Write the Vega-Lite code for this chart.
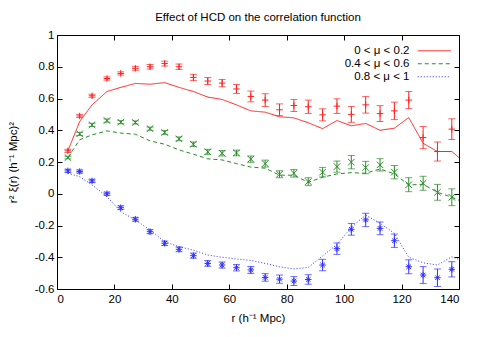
{
  "$schema": "https://vega.github.io/schema/vega-lite/v6.json",
  "width": 402,
  "height": 254,
  "autosize": {"type": "none"},
  "padding": {"left": 57, "top": 35, "right": 21, "bottom": 48},
  "title": {"text": "Effect of HCD on the correlation function", "fontSize": 11.5, "font": "Liberation Sans", "fontWeight": "normal", "offset": 6, "anchor": "middle", "color": "black"},
  "config": {
    "font": "Liberation Sans",
    "view": {"stroke": "black", "strokeWidth": 1},
    "axis": {"domain": false, "grid": false, "tickSize": -5, "tickColor": "black", "labelColor": "black", "labelFontSize": 11.5, "labelFont": "Liberation Sans", "titleFont": "Liberation Sans", "titleFontSize": 11.5, "titleFontWeight": "normal", "titleColor": "black"}
  },
  "datasets": {
    "pts": [
      {"s": "0 < μ < 0.2", "r": 3.8, "v": 0.27, "err": 0.01},
      {"s": "0 < μ < 0.2", "r": 7.9, "v": 0.49, "err": 0.01},
      {"s": "0 < μ < 0.2", "r": 12.2, "v": 0.617, "err": 0.01},
      {"s": "0 < μ < 0.2", "r": 17.4, "v": 0.726, "err": 0.01},
      {"s": "0 < μ < 0.2", "r": 22.2, "v": 0.758, "err": 0.01},
      {"s": "0 < μ < 0.2", "r": 27.3, "v": 0.79, "err": 0.012},
      {"s": "0 < μ < 0.2", "r": 32.4, "v": 0.8, "err": 0.014},
      {"s": "0 < μ < 0.2", "r": 37.5, "v": 0.82, "err": 0.015},
      {"s": "0 < μ < 0.2", "r": 42.5, "v": 0.8, "err": 0.017},
      {"s": "0 < μ < 0.2", "r": 47.5, "v": 0.733, "err": 0.019},
      {"s": "0 < μ < 0.2", "r": 52.5, "v": 0.71, "err": 0.022},
      {"s": "0 < μ < 0.2", "r": 57.5, "v": 0.697, "err": 0.023},
      {"s": "0 < μ < 0.2", "r": 62.5, "v": 0.66, "err": 0.028},
      {"s": "0 < μ < 0.2", "r": 67.5, "v": 0.613, "err": 0.034},
      {"s": "0 < μ < 0.2", "r": 72.5, "v": 0.59, "err": 0.04},
      {"s": "0 < μ < 0.2", "r": 77.5, "v": 0.529, "err": 0.037},
      {"s": "0 < μ < 0.2", "r": 82.5, "v": 0.556, "err": 0.038},
      {"s": "0 < μ < 0.2", "r": 87.5, "v": 0.548, "err": 0.042},
      {"s": "0 < μ < 0.2", "r": 92.5, "v": 0.497, "err": 0.038},
      {"s": "0 < μ < 0.2", "r": 97.5, "v": 0.552, "err": 0.046},
      {"s": "0 < μ < 0.2", "r": 102.5, "v": 0.5, "err": 0.05},
      {"s": "0 < μ < 0.2", "r": 107.5, "v": 0.56, "err": 0.052},
      {"s": "0 < μ < 0.2", "r": 112.5, "v": 0.505, "err": 0.05},
      {"s": "0 < μ < 0.2", "r": 117.5, "v": 0.522, "err": 0.055},
      {"s": "0 < μ < 0.2", "r": 122.5, "v": 0.59, "err": 0.054},
      {"s": "0 < μ < 0.2", "r": 127.5, "v": 0.354, "err": 0.07},
      {"s": "0 < μ < 0.2", "r": 132.5, "v": 0.266, "err": 0.06},
      {"s": "0 < μ < 0.2", "r": 137.5, "v": 0.407, "err": 0.065},
      {"s": "0.4 < μ < 0.6", "r": 3.8, "v": 0.228, "err": 0.008},
      {"s": "0.4 < μ < 0.6", "r": 7.9, "v": 0.377, "err": 0.01},
      {"s": "0.4 < μ < 0.6", "r": 12.2, "v": 0.434, "err": 0.01},
      {"s": "0.4 < μ < 0.6", "r": 17.4, "v": 0.461, "err": 0.01},
      {"s": "0.4 < μ < 0.6", "r": 22.2, "v": 0.451, "err": 0.01},
      {"s": "0.4 < μ < 0.6", "r": 27.3, "v": 0.449, "err": 0.01},
      {"s": "0.4 < μ < 0.6", "r": 32.4, "v": 0.41, "err": 0.01},
      {"s": "0.4 < μ < 0.6", "r": 37.5, "v": 0.386, "err": 0.012},
      {"s": "0.4 < μ < 0.6", "r": 42.5, "v": 0.346, "err": 0.012},
      {"s": "0.4 < μ < 0.6", "r": 47.5, "v": 0.312, "err": 0.014},
      {"s": "0.4 < μ < 0.6", "r": 52.5, "v": 0.264, "err": 0.016},
      {"s": "0.4 < μ < 0.6", "r": 57.5, "v": 0.255, "err": 0.017},
      {"s": "0.4 < μ < 0.6", "r": 62.5, "v": 0.257, "err": 0.018},
      {"s": "0.4 < μ < 0.6", "r": 67.5, "v": 0.218, "err": 0.02},
      {"s": "0.4 < μ < 0.6", "r": 72.5, "v": 0.19, "err": 0.022},
      {"s": "0.4 < μ < 0.6", "r": 77.5, "v": 0.123, "err": 0.022},
      {"s": "0.4 < μ < 0.6", "r": 82.5, "v": 0.129, "err": 0.024},
      {"s": "0.4 < μ < 0.6", "r": 87.5, "v": 0.076, "err": 0.025},
      {"s": "0.4 < μ < 0.6", "r": 92.5, "v": 0.136, "err": 0.03},
      {"s": "0.4 < μ < 0.6", "r": 97.5, "v": 0.171, "err": 0.035},
      {"s": "0.4 < μ < 0.6", "r": 102.5, "v": 0.199, "err": 0.042},
      {"s": "0.4 < μ < 0.6", "r": 107.5, "v": 0.165, "err": 0.039},
      {"s": "0.4 < μ < 0.6", "r": 112.5, "v": 0.182, "err": 0.039},
      {"s": "0.4 < μ < 0.6", "r": 117.5, "v": 0.136, "err": 0.042},
      {"s": "0.4 < μ < 0.6", "r": 122.5, "v": 0.057, "err": 0.044},
      {"s": "0.4 < μ < 0.6", "r": 127.5, "v": 0.066, "err": 0.044},
      {"s": "0.4 < μ < 0.6", "r": 132.5, "v": 0.009, "err": 0.05},
      {"s": "0.4 < μ < 0.6", "r": 137.5, "v": -0.022, "err": 0.053},
      {"s": "0.8 < μ < 1", "r": 3.8, "v": 0.144, "err": 0.01},
      {"s": "0.8 < μ < 1", "r": 7.9, "v": 0.14, "err": 0.01},
      {"s": "0.8 < μ < 1", "r": 12.2, "v": 0.081, "err": 0.01},
      {"s": "0.8 < μ < 1", "r": 17.4, "v": 0.0, "err": 0.01},
      {"s": "0.8 < μ < 1", "r": 22.2, "v": -0.088, "err": 0.012},
      {"s": "0.8 < μ < 1", "r": 27.3, "v": -0.161, "err": 0.012},
      {"s": "0.8 < μ < 1", "r": 32.4, "v": -0.239, "err": 0.013},
      {"s": "0.8 < μ < 1", "r": 37.5, "v": -0.312, "err": 0.014},
      {"s": "0.8 < μ < 1", "r": 42.5, "v": -0.35, "err": 0.015},
      {"s": "0.8 < μ < 1", "r": 47.5, "v": -0.39, "err": 0.016},
      {"s": "0.8 < μ < 1", "r": 52.5, "v": -0.439, "err": 0.018},
      {"s": "0.8 < μ < 1", "r": 57.5, "v": -0.449, "err": 0.019},
      {"s": "0.8 < μ < 1", "r": 62.5, "v": -0.466, "err": 0.02},
      {"s": "0.8 < μ < 1", "r": 67.5, "v": -0.48, "err": 0.022},
      {"s": "0.8 < μ < 1", "r": 72.5, "v": -0.527, "err": 0.024},
      {"s": "0.8 < μ < 1", "r": 77.5, "v": -0.538, "err": 0.026},
      {"s": "0.8 < μ < 1", "r": 82.5, "v": -0.55, "err": 0.028},
      {"s": "0.8 < μ < 1", "r": 87.5, "v": -0.54, "err": 0.03},
      {"s": "0.8 < μ < 1", "r": 92.5, "v": -0.449, "err": 0.036},
      {"s": "0.8 < μ < 1", "r": 97.5, "v": -0.346, "err": 0.036},
      {"s": "0.8 < μ < 1", "r": 102.5, "v": -0.224, "err": 0.037},
      {"s": "0.8 < μ < 1", "r": 107.5, "v": -0.165, "err": 0.042},
      {"s": "0.8 < μ < 1", "r": 112.5, "v": -0.218, "err": 0.04},
      {"s": "0.8 < μ < 1", "r": 117.5, "v": -0.296, "err": 0.042},
      {"s": "0.8 < μ < 1", "r": 122.5, "v": -0.46, "err": 0.044},
      {"s": "0.8 < μ < 1", "r": 127.5, "v": -0.512, "err": 0.053},
      {"s": "0.8 < μ < 1", "r": 132.5, "v": -0.529, "err": 0.055},
      {"s": "0.8 < μ < 1", "r": 137.5, "v": -0.476, "err": 0.048}
    ],
    "lines": [
      {"s": "0 < μ < 0.2", "r": 3.8, "v": 0.27},
      {"s": "0 < μ < 0.2", "r": 7.9, "v": 0.455},
      {"s": "0 < μ < 0.2", "r": 12.2, "v": 0.56},
      {"s": "0 < μ < 0.2", "r": 17.4, "v": 0.644},
      {"s": "0 < μ < 0.2", "r": 22.2, "v": 0.67},
      {"s": "0 < μ < 0.2", "r": 27.3, "v": 0.695},
      {"s": "0 < μ < 0.2", "r": 32.4, "v": 0.69},
      {"s": "0 < μ < 0.2", "r": 37.5, "v": 0.7},
      {"s": "0 < μ < 0.2", "r": 42.5, "v": 0.67},
      {"s": "0 < μ < 0.2", "r": 47.5, "v": 0.644},
      {"s": "0 < μ < 0.2", "r": 52.5, "v": 0.609},
      {"s": "0 < μ < 0.2", "r": 57.5, "v": 0.594},
      {"s": "0 < μ < 0.2", "r": 62.5, "v": 0.56},
      {"s": "0 < μ < 0.2", "r": 67.5, "v": 0.522},
      {"s": "0 < μ < 0.2", "r": 72.5, "v": 0.514},
      {"s": "0 < μ < 0.2", "r": 77.5, "v": 0.485},
      {"s": "0 < μ < 0.2", "r": 82.5, "v": 0.478},
      {"s": "0 < μ < 0.2", "r": 87.5, "v": 0.447},
      {"s": "0 < μ < 0.2", "r": 92.5, "v": 0.41},
      {"s": "0 < μ < 0.2", "r": 97.5, "v": 0.461},
      {"s": "0 < μ < 0.2", "r": 102.5, "v": 0.428},
      {"s": "0 < μ < 0.2", "r": 107.5, "v": 0.443},
      {"s": "0 < μ < 0.2", "r": 112.5, "v": 0.4},
      {"s": "0 < μ < 0.2", "r": 117.5, "v": 0.413},
      {"s": "0 < μ < 0.2", "r": 122.5, "v": 0.48},
      {"s": "0 < μ < 0.2", "r": 127.5, "v": 0.318},
      {"s": "0 < μ < 0.2", "r": 132.5, "v": 0.266},
      {"s": "0 < μ < 0.2", "r": 137.5, "v": 0.266},
      {"s": "0 < μ < 0.2", "r": 142.5, "v": 0.19},
      {"s": "0.4 < μ < 0.6", "r": 3.8, "v": 0.228},
      {"s": "0.4 < μ < 0.6", "r": 7.9, "v": 0.34},
      {"s": "0.4 < μ < 0.6", "r": 12.2, "v": 0.371},
      {"s": "0.4 < μ < 0.6", "r": 17.4, "v": 0.396},
      {"s": "0.4 < μ < 0.6", "r": 22.2, "v": 0.382},
      {"s": "0.4 < μ < 0.6", "r": 27.3, "v": 0.375},
      {"s": "0.4 < μ < 0.6", "r": 32.4, "v": 0.333},
      {"s": "0.4 < μ < 0.6", "r": 37.5, "v": 0.312},
      {"s": "0.4 < μ < 0.6", "r": 42.5, "v": 0.276},
      {"s": "0.4 < μ < 0.6", "r": 47.5, "v": 0.249},
      {"s": "0.4 < μ < 0.6", "r": 52.5, "v": 0.22},
      {"s": "0.4 < μ < 0.6", "r": 57.5, "v": 0.213},
      {"s": "0.4 < μ < 0.6", "r": 62.5, "v": 0.19},
      {"s": "0.4 < μ < 0.6", "r": 67.5, "v": 0.168},
      {"s": "0.4 < μ < 0.6", "r": 72.5, "v": 0.161},
      {"s": "0.4 < μ < 0.6", "r": 77.5, "v": 0.117},
      {"s": "0.4 < μ < 0.6", "r": 82.5, "v": 0.117},
      {"s": "0.4 < μ < 0.6", "r": 87.5, "v": 0.072},
      {"s": "0.4 < μ < 0.6", "r": 92.5, "v": 0.104},
      {"s": "0.4 < μ < 0.6", "r": 97.5, "v": 0.125},
      {"s": "0.4 < μ < 0.6", "r": 102.5, "v": 0.133},
      {"s": "0.4 < μ < 0.6", "r": 107.5, "v": 0.129},
      {"s": "0.4 < μ < 0.6", "r": 112.5, "v": 0.156},
      {"s": "0.4 < μ < 0.6", "r": 117.5, "v": 0.125},
      {"s": "0.4 < μ < 0.6", "r": 122.5, "v": 0.055},
      {"s": "0.4 < μ < 0.6", "r": 127.5, "v": 0.06},
      {"s": "0.4 < μ < 0.6", "r": 132.5, "v": 0.009},
      {"s": "0.4 < μ < 0.6", "r": 137.5, "v": -0.022},
      {"s": "0.4 < μ < 0.6", "r": 142.5, "v": -0.06},
      {"s": "0.8 < μ < 1", "r": 3.8, "v": 0.129},
      {"s": "0.8 < μ < 1", "r": 7.9, "v": 0.108},
      {"s": "0.8 < μ < 1", "r": 12.2, "v": 0.056},
      {"s": "0.8 < μ < 1", "r": 17.4, "v": -0.018},
      {"s": "0.8 < μ < 1", "r": 22.2, "v": -0.113},
      {"s": "0.8 < μ < 1", "r": 27.3, "v": -0.165},
      {"s": "0.8 < μ < 1", "r": 32.4, "v": -0.228},
      {"s": "0.8 < μ < 1", "r": 37.5, "v": -0.302},
      {"s": "0.8 < μ < 1", "r": 42.5, "v": -0.334},
      {"s": "0.8 < μ < 1", "r": 47.5, "v": -0.355},
      {"s": "0.8 < μ < 1", "r": 52.5, "v": -0.386},
      {"s": "0.8 < μ < 1", "r": 57.5, "v": -0.4},
      {"s": "0.8 < μ < 1", "r": 62.5, "v": -0.411},
      {"s": "0.8 < μ < 1", "r": 67.5, "v": -0.42},
      {"s": "0.8 < μ < 1", "r": 72.5, "v": -0.439},
      {"s": "0.8 < μ < 1", "r": 77.5, "v": -0.46},
      {"s": "0.8 < μ < 1", "r": 82.5, "v": -0.474},
      {"s": "0.8 < μ < 1", "r": 87.5, "v": -0.464},
      {"s": "0.8 < μ < 1", "r": 92.5, "v": -0.392},
      {"s": "0.8 < μ < 1", "r": 97.5, "v": -0.319},
      {"s": "0.8 < μ < 1", "r": 102.5, "v": -0.211},
      {"s": "0.8 < μ < 1", "r": 107.5, "v": -0.134},
      {"s": "0.8 < μ < 1", "r": 112.5, "v": -0.186},
      {"s": "0.8 < μ < 1", "r": 117.5, "v": -0.249},
      {"s": "0.8 < μ < 1", "r": 122.5, "v": -0.4},
      {"s": "0.8 < μ < 1", "r": 127.5, "v": -0.435},
      {"s": "0.8 < μ < 1", "r": 132.5, "v": -0.449},
      {"s": "0.8 < μ < 1", "r": 137.5, "v": -0.397},
      {"s": "0.8 < μ < 1", "r": 142.5, "v": -0.43}
    ]
  },
  "layer": [
    {
      "mark": {"type": "rule", "stroke": "#555555", "strokeWidth": 1, "strokeDash": [3, 4]},
      "encoding": {"y": {"datum": 0, "type": "quantitative", "scale": {"domain": [-0.6, 1], "nice": false, "zero": false}, "axis": null}}
    },
    {
      "data": {"name": "lines"},
      "mark": {"type": "line", "strokeWidth": 1, "clip": true},
      "encoding": {
        "x": {"field": "r", "type": "quantitative", "scale": {"domain": [0, 140], "nice": false, "zero": false},
              "axis": {"orient": "top", "values": [0, 20, 40, 60, 80, 100, 120, 140], "labels": false, "title": null}},
        "y": {"field": "v", "type": "quantitative", "scale": {"domain": [-0.6, 1], "nice": false, "zero": false},
              "axis": {"orient": "right", "values": [-0.6, -0.4, -0.2, 0, 0.2, 0.4, 0.6, 0.8, 1], "labels": false, "title": null}},
        "color": {"field": "s", "type": "nominal",
          "scale": {"domain": ["0 < μ < 0.2", "0.4 < μ < 0.6", "0.8 < μ < 1"], "range": ["#ff2020", "#2a8a2a", "#3030ff"]},
          "legend": {"orient": "none", "legendX": 355, "legendY": 10, "title": null, "symbolType": "M0,0L33,0", "symbolSize": 4, "symbolStrokeWidth": 1, "labelAlign": "right", "labelOffset": -14, "labelFontSize": 8, "labelFont": "Liberation Sans", "labelColor": "black", "labelLimit": 0, "padding": 0, "rowPadding": 0,
            "encode": {"labels": {"update": {"fontSize": {"value": 11.5}}}}}},
        "strokeDash": {"field": "s", "type": "nominal",
          "scale": {"domain": ["0 < μ < 0.2", "0.4 < μ < 0.6", "0.8 < μ < 1"], "range": [[1, 0], [4, 3], [1, 2]]},
          "legend": {"orient": "none", "legendX": 355, "legendY": 10, "title": null, "symbolType": "M0,0L33,0", "symbolSize": 4, "symbolStrokeWidth": 1, "labelAlign": "right", "labelOffset": -14, "labelFontSize": 8, "labelFont": "Liberation Sans", "labelColor": "black", "labelLimit": 0, "padding": 0, "rowPadding": 0,
            "encode": {"labels": {"update": {"fontSize": {"value": 11.5}}}}}}
      }
    },
    {
      "data": {"name": "pts"},
      "mark": {"type": "errorbar", "ticks": {"size": 7}, "clip": true},
      "encoding": {
        "x": {"field": "r", "type": "quantitative", "axis": null},
        "y": {"field": "v", "type": "quantitative", "axis": null},
        "yError": {"field": "err"},
        "color": {"field": "s", "type": "nominal", "legend": null}
      }
    },
    {
      "data": {"name": "pts"},
      "transform": [{"filter": {"field": "s", "equal": "0 < μ < 0.2"}}],
      "mark": {"type": "point", "filled": false, "size": 42, "strokeWidth": 1, "opacity": 1, "shape": "M-1,0L1,0M0,-1L0,1"},
      "encoding": {
        "x": {"field": "r", "type": "quantitative",
              "axis": {"orient": "bottom", "values": [0, 20, 40, 60, 80, 100, 120, 140], "labelPadding": 9, "title": "r  (h⁻¹ Mpc)", "titlePadding": 8}},
        "y": {"field": "v", "type": "quantitative",
              "axis": {"orient": "left", "values": [-0.6, -0.4, -0.2, 0, 0.2, 0.4, 0.6, 0.8, 1], "labelExpr": "'' + datum.value", "labelPadding": 8, "title": "r² ξ(r)  (h⁻¹ Mpc)²", "titlePadding": 16}},
        "color": {"field": "s", "type": "nominal", "legend": null}
      }
    },
    {
      "data": {"name": "pts"},
      "transform": [{"filter": {"field": "s", "equal": "0.4 < μ < 0.6"}}],
      "mark": {"type": "point", "filled": false, "size": 42, "strokeWidth": 1, "opacity": 1, "shape": "M-1,-1L1,1M-1,1L1,-1"},
      "encoding": {
        "x": {"field": "r", "type": "quantitative", "axis": null},
        "y": {"field": "v", "type": "quantitative", "axis": null},
        "color": {"field": "s", "type": "nominal", "legend": null}
      }
    },
    {
      "data": {"name": "pts"},
      "transform": [{"filter": {"field": "s", "equal": "0.8 < μ < 1"}}],
      "mark": {"type": "point", "filled": false, "size": 42, "strokeWidth": 1, "opacity": 1, "shape": "M-1,0L1,0M0,-1L0,1M-0.7,-0.7L0.7,0.7M-0.7,0.7L0.7,-0.7"},
      "encoding": {
        "x": {"field": "r", "type": "quantitative", "axis": null},
        "y": {"field": "v", "type": "quantitative", "axis": null},
        "color": {"field": "s", "type": "nominal", "legend": null}
      }
    }
  ],
  "resolve": {"axis": {"x": "independent", "y": "independent"}}
}
